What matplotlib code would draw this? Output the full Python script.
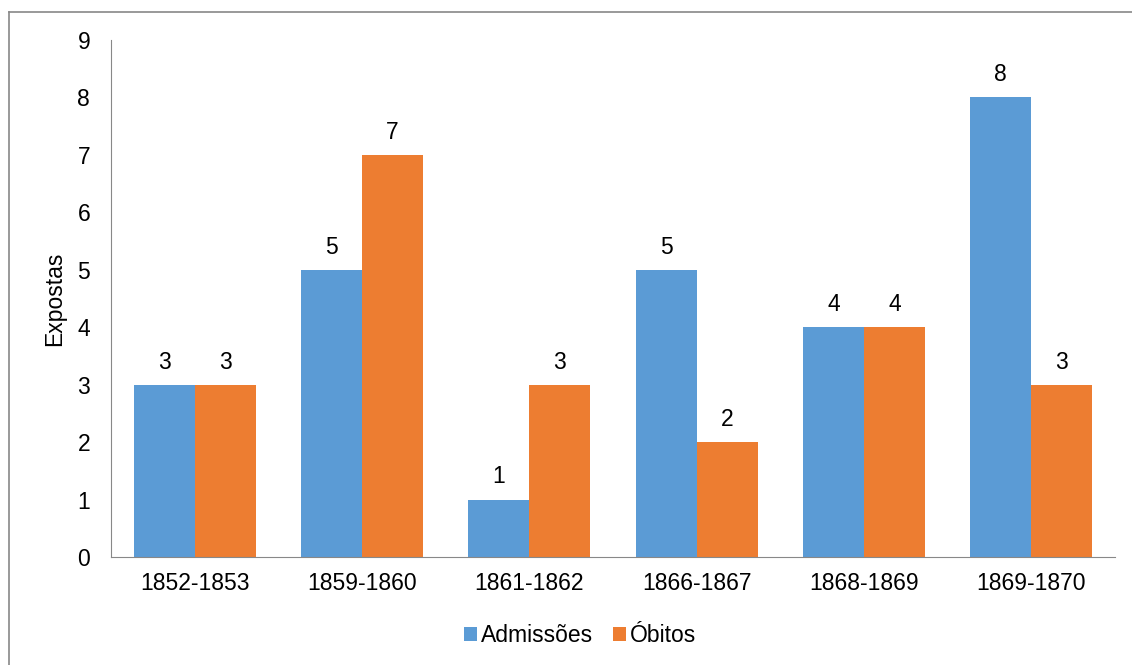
import numpy as np
import matplotlib.pyplot as plt
from matplotlib.lines import Line2D

# data
periodos = ['1852-1853', '1859-1860', '1861-1862', '1866-1867', '1868-1869', '1869-1870']
admissoes = [3, 5, 1, 5, 4, 8]
obitos = [3, 7, 3, 2, 4, 3]

azul = '#5B9BD5'
laranja = '#ED7D31'

plt.rcParams['font.family'] = ['Liberation Sans', 'DejaVu Sans']
fs = 16.5

W, H = 1132, 665
fig = plt.figure(figsize=(W / 100, H / 100), dpi=100)
ax = fig.add_axes([111 / W, 1 - 557 / H, (1115 - 111) / W, (557 - 40) / H])

x = np.arange(len(periodos))
largura = 0.365
b1 = ax.bar(x - largura / 2, admissoes, largura, color=azul, label='Admissões')
b2 = ax.bar(x + largura / 2, obitos, largura, color=laranja, label='Óbitos')

for barras in (b1, b2):
    ax.bar_label(barras, padding=8, fontsize=fs)

ax.set_xlim(-0.5, len(periodos) - 0.5)
ax.set_ylim(0, 9)
ax.set_yticks(range(10))
ax.set_xticks(x)
ax.set_xticklabels(periodos)
ax.tick_params(axis='both', length=0, labelsize=fs)
ax.tick_params(axis='y', pad=15)
ax.tick_params(axis='x', pad=11)

for lado in ['top', 'right']:
    ax.spines[lado].set_visible(False)
ax.spines['left'].set_color('#888888')
ax.spines['bottom'].set_color('#888888')

ax.set_ylabel('Expostas', fontsize=fs)
ax.yaxis.set_label_coords((66 - 111) / (1115 - 111), 0.5)

ax.legend(loc='center', bbox_to_anchor=(580 / W, 1 - 636 / H),
          bbox_transform=fig.transFigure, ncol=2, frameon=False, fontsize=fs,
          handlelength=0.57, handleheight=0.57, handletextpad=0.18, columnspacing=0.85)

# outer chart border (cropped at right and bottom in the original)
fig.add_artist(Line2D([9 / W, 1], [1 - 12 / H, 1 - 12 / H], color='#888888', lw=1.2))
fig.add_artist(Line2D([9 / W, 9 / W], [0, 1 - 12 / H], color='#888888', lw=1.2))

fig.savefig('out.png', dpi=100)
